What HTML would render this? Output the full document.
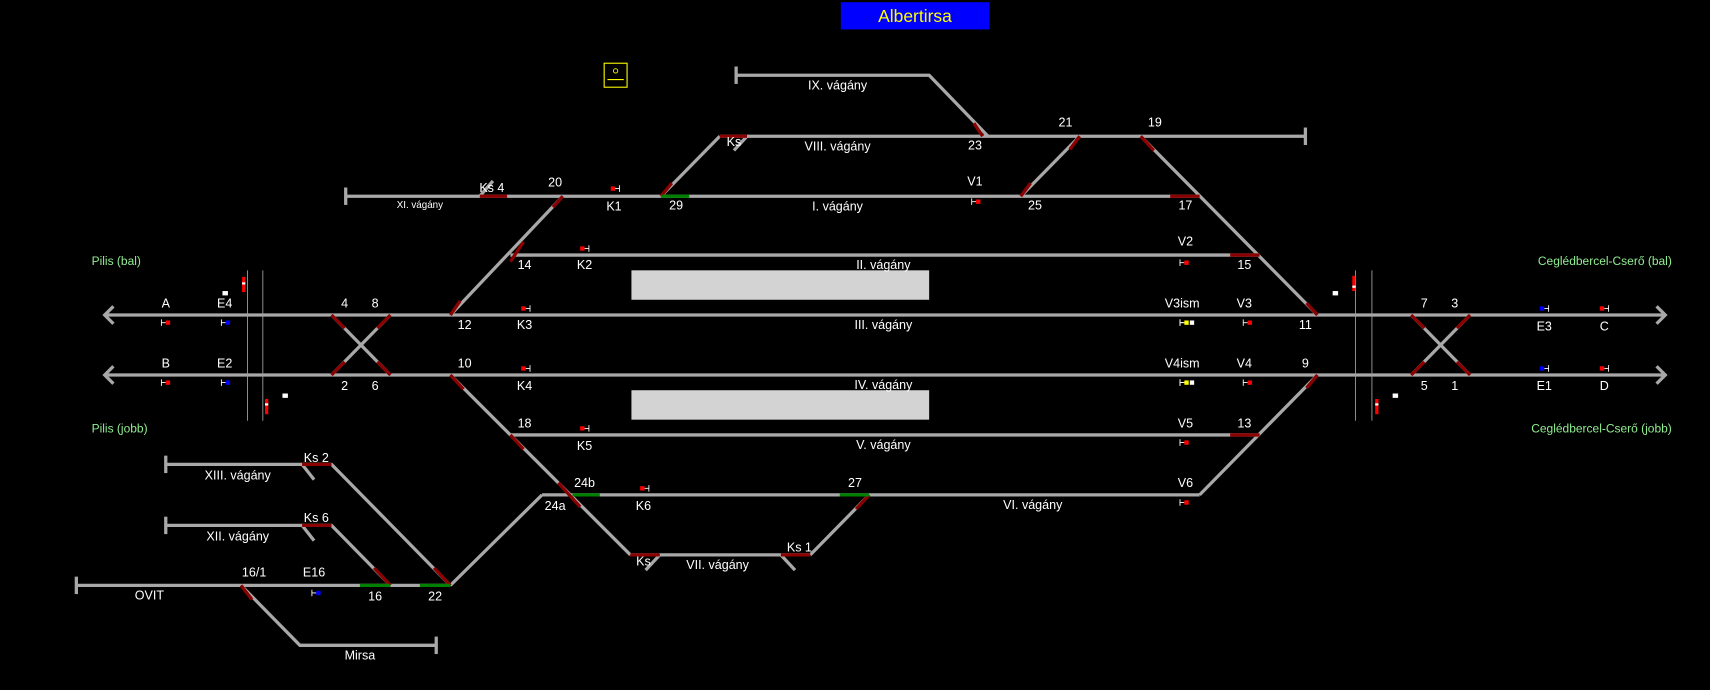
<!DOCTYPE html>
<html><head><meta charset="utf-8"><style>
html,body{margin:0;padding:0;background:#000;}
svg{display:block;}
text{font-family:"Liberation Sans",sans-serif;fill:#fff;font-size:11.5px;}
.t{stroke:#a8a8a8;stroke-width:3;fill:none;}
.r{stroke:#8b0000;stroke-width:3;fill:none;}
.g{stroke:#008000;stroke-width:3;fill:none;}
.gl{fill:#90ee90;font-size:11px;}
.m{text-anchor:middle;}
</style></head><body>
<svg width="1710" height="690" viewBox="0 0 1568 633" preserveAspectRatio="none" xmlns="http://www.w3.org/2000/svg">
<rect x="0" y="0" width="1568" height="633" fill="#000"/>
<rect x="771" y="2" width="136" height="25" fill="#0000ff"/>
<text x="839" y="20" class="m" style="fill:#ffff00;font-size:16px">Albertirsa</text>
<rect x="554" y="58" width="21" height="22" fill="none" stroke="#ffff00" stroke-width="1"/>
<circle cx="564.5" cy="65" r="2" fill="none" stroke="#ffff00" stroke-width="0.8"/>
<line x1="557" y1="73" x2="572" y2="73" stroke="#ffff00" stroke-width="1"/>

<!-- platforms -->
<rect x="579" y="248" width="273" height="27" fill="#d3d3d3"/>
<rect x="579" y="358" width="273" height="27" fill="#d3d3d3"/>

<!-- main tracks -->
<g class="t">
<path d="M675 69H852L906 125"/><path d="M675 61V77"/>
<path d="M660 125H1197"/><path d="M1197 117V133"/>
<path d="M660 125L606 180"/><path d="M685 125L673 138"/>
<path d="M317 180H1100"/><path d="M317 172V188"/><path d="M452 166L440 180"/>
<path d="M990 125L936 180"/>
<path d="M1046 125L1208 289"/>
<path d="M516 180L413 289"/>
<path d="M468 234H1155"/>
<path d="M96 289H1527"/><path d="M104 281L96 289L104 297"/><path d="M1519 281L1527 289L1519 297"/>
<path d="M96 344H1527"/><path d="M104 336L96 344L104 352"/><path d="M1519 336L1527 344L1519 352"/>
<path d="M304 289L358 344M358 289L304 344"/>
<path d="M1294 289L1348 344M1348 289L1294 344"/>
<path d="M413 344L578 509"/>
<path d="M468 399H1155"/>
<path d="M1208 344L1100 454"/>
<path d="M497 454H1100"/><path d="M497 454L413 537"/>
<path d="M797 454L743 509"/>
<path d="M578 509H743"/><path d="M605 509L592 523"/><path d="M716 509L729 523"/>
<path d="M152 426H304L413 537"/><path d="M152 418V434"/><path d="M277 426L288 440"/>
<path d="M152 482H304L358 537"/><path d="M152 474V490"/><path d="M277 482L288 496"/>
<path d="M70 537H413"/><path d="M70 529V545"/>
<path d="M221 537L275 592H400"/><path d="M400 584V600"/>
</g>
<!-- red switch parts -->
<g class="r">
<path d="M893 113L901 125"/>
<path d="M660 125H685"/>
<path d="M606 180L616 168"/>
<path d="M440 180H465"/>
<path d="M516 180L507 190"/><path d="M468 240L480 222"/><path d="M413 289L422 276"/>
<path d="M990 125L981 137"/><path d="M936 180L945 168"/>
<path d="M1046 125L1058 138"/><path d="M1073 180H1100"/><path d="M1128 234H1155"/><path d="M1198 278L1208 289"/>
<path d="M304 289L316 301M358 289L346 301M304 344L316 332M358 344L346 332"/>
<path d="M1294 289L1306 301M1348 289L1336 301M1294 344L1306 332M1348 344L1336 332"/>
<path d="M413 344L425 357"/><path d="M468 399L480 412"/><path d="M512 443L532 465"/>
<path d="M1208 344L1198 356"/><path d="M1128 399H1155"/>
<path d="M797 454L785 467"/>
<path d="M578 509H605"/><path d="M716 509H743"/>
<path d="M277 426H304"/><path d="M277 482H304"/>
<path d="M398 521L413 537"/><path d="M343 521L358 537"/>
<path d="M221 537L231 550"/>
</g>
<g class="g">
<path d="M606 180H632"/><path d="M525 454H550"/><path d="M770 454H797"/>
<path d="M330 537H358"/><path d="M385 537H413"/>
</g>

<!-- boundary lines -->
<g stroke="#a0a0a0" stroke-width="0.8">
<path d="M227 248V386M241 248V386M1243 248V386M1258 248V386"/>
</g>
<rect x="222" y="254" width="3" height="14" fill="#ff0000"/><rect x="222" y="259" width="3" height="2" fill="#fff"/>
<rect x="204" y="267" width="5" height="4" fill="#fff"/>
<rect x="243" y="366" width="3" height="14" fill="#ff0000"/><rect x="243" y="370" width="3" height="2" fill="#fff"/>
<rect x="259" y="361" width="5" height="4" fill="#fff"/>
<rect x="1240" y="253" width="3" height="14" fill="#ff0000"/><rect x="1240" y="262" width="3" height="2" fill="#fff"/>
<rect x="1222" y="267" width="5" height="4" fill="#fff"/>
<rect x="1261" y="366" width="3" height="14" fill="#ff0000"/><rect x="1261" y="370" width="3" height="2" fill="#fff"/>
<rect x="1277" y="361" width="5" height="4" fill="#fff"/>

<!-- signals: left-facing (tick left, square right) -->
<g stroke="#fff" stroke-width="0.8">
<path d="M148 293V299M148 296H152"/><path d="M203 293V299M203 296H207"/>
<path d="M148 348V354M148 351H152"/><path d="M203 348V354M203 351H207"/>
<path d="M891 182V188M891 185H895"/><path d="M1082 238V244M1082 241H1086"/>
<path d="M1082 293V299M1082 296H1086"/><path d="M1140 293V299M1140 296H1144"/>
<path d="M1082 348V354M1082 351H1086"/><path d="M1140 348V354M1140 351H1144"/>
<path d="M1082 403V409M1082 406H1086"/><path d="M1082 458V464M1082 461H1086"/>
<path d="M286 541V547M286 544H290"/>
<path d="M568 170V176M564 173H568"/><path d="M540 225V231M536 228H540"/>
<path d="M486 280V286M482 283H486"/><path d="M486 335V341M482 338H486"/>
<path d="M540 390V396M536 393H540"/><path d="M595 445V451M591 448H595"/>
<path d="M1420 280V286M1416 283H1420"/><path d="M1475 280V286M1471 283H1475"/>
<path d="M1420 335V341M1416 338H1420"/><path d="M1475 335V341M1471 338H1475"/>
</g>
<g fill="#ff0000">
<rect x="152" y="294" width="4" height="4"/><rect x="152" y="349" width="4" height="4"/>
<rect x="895" y="183" width="4" height="4"/><rect x="1086" y="239" width="4" height="4"/>
<rect x="1144" y="294" width="4" height="4"/><rect x="1144" y="349" width="4" height="4"/>
<rect x="1086" y="404" width="4" height="4"/><rect x="1086" y="459" width="4" height="4"/>
<rect x="560" y="171" width="4" height="4"/><rect x="532" y="226" width="4" height="4"/>
<rect x="478" y="281" width="4" height="4"/><rect x="478" y="336" width="4" height="4"/>
<rect x="532" y="391" width="4" height="4"/><rect x="587" y="446" width="4" height="4"/>
<rect x="1467" y="281" width="4" height="4"/><rect x="1467" y="336" width="4" height="4"/>
</g>
<g fill="#0000ff">
<rect x="207" y="294" width="4" height="4"/><rect x="207" y="349" width="4" height="4"/>
<rect x="290" y="542" width="4" height="4"/>
<rect x="1412" y="281" width="4" height="4"/><rect x="1412" y="336" width="4" height="4"/>
</g>
<rect x="1086" y="294" width="4" height="4" fill="#ffff00"/><rect x="1091" y="294" width="4" height="4" fill="#fff"/>
<rect x="1086" y="349" width="4" height="4" fill="#ffff00"/><rect x="1091" y="349" width="4" height="4" fill="#fff"/>
<path d="M1082 293V299M1082 296H1086M1082 348V354M1082 351H1086" stroke="#fff" stroke-width="0.8"/>

<!-- labels -->
<g class="m">
<text x="768" y="82">IX. vágány</text>
<text x="768" y="138">VIII. vágány</text>
<text x="768" y="193">I. vágány</text>
<text x="810" y="247">II. vágány</text>
<text x="810" y="302">III. vágány</text>
<text x="810" y="357">IV. vágány</text>
<text x="810" y="412">V. vágány</text>
<text x="947" y="467">VI. vágány</text>
<text x="658" y="522">VII. vágány</text>
<text x="218" y="440">XIII. vágány</text>
<text x="218" y="496">XII. vágány</text>
<text x="137" y="550">OVIT</text>
<text x="330" y="605">Mirsa</text>
<text x="385" y="191" style="font-size:9px">XI. vágány</text>
<text x="894" y="137">23</text><text x="977" y="116">21</text><text x="1059" y="116">19</text>
<text x="894" y="170">V1</text><text x="949" y="192">25</text><text x="1087" y="192">17</text>
<text x="509" y="171">20</text><text x="563" y="193">K1</text><text x="620" y="192">29</text>
<text x="481" y="247">14</text><text x="536" y="247">K2</text>
<text x="1087" y="225">V2</text><text x="1141" y="247">15</text>
<text x="152" y="282">A</text><text x="206" y="282">E4</text>
<text x="316" y="282">4</text><text x="344" y="282">8</text>
<text x="426" y="302">12</text><text x="481" y="302">K3</text>
<text x="1084" y="282">V3ism</text><text x="1141" y="282">V3</text><text x="1197" y="302">11</text>
<text x="1306" y="282">7</text><text x="1334" y="282">3</text>
<text x="1416" y="303">E3</text><text x="1471" y="303">C</text>
<text x="152" y="337">B</text><text x="206" y="337">E2</text>
<text x="316" y="358">2</text><text x="344" y="358">6</text>
<text x="426" y="337">10</text><text x="481" y="358">K4</text>
<text x="1084" y="337">V4ism</text><text x="1141" y="337">V4</text><text x="1197" y="337">9</text>
<text x="1306" y="358">5</text><text x="1334" y="358">1</text>
<text x="1416" y="358">E1</text><text x="1471" y="358">D</text>
<text x="481" y="392">18</text><text x="536" y="413">K5</text>
<text x="1087" y="392">V5</text><text x="1141" y="392">13</text>
<text x="536" y="447">24b</text><text x="509" y="468">24a</text><text x="590" y="468">K6</text>
<text x="784" y="447">27</text><text x="1087" y="447">V6</text>
<text x="290" y="424">Ks 2</text><text x="290" y="479">Ks 6</text>
<text x="233" y="529">16/1</text><text x="288" y="529">E16</text>
<text x="344" y="551">16</text><text x="399" y="551">22</text>
<text x="733" y="506">Ks 1</text><text x="590" y="519">Ks</text>
<text x="673" y="134">Ks</text><text x="451" y="176">Ks 4</text>
</g>
<text x="84" y="243" class="gl">Pilis (bal)</text>
<text x="84" y="397" class="gl">Pilis (jobb)</text>
<text x="1533" y="243" class="gl" style="text-anchor:end">Ceglédbercel-Cserő (bal)</text>
<text x="1533" y="397" class="gl" style="text-anchor:end">Ceglédbercel-Cserő (jobb)</text>
</svg>
</body></html>
